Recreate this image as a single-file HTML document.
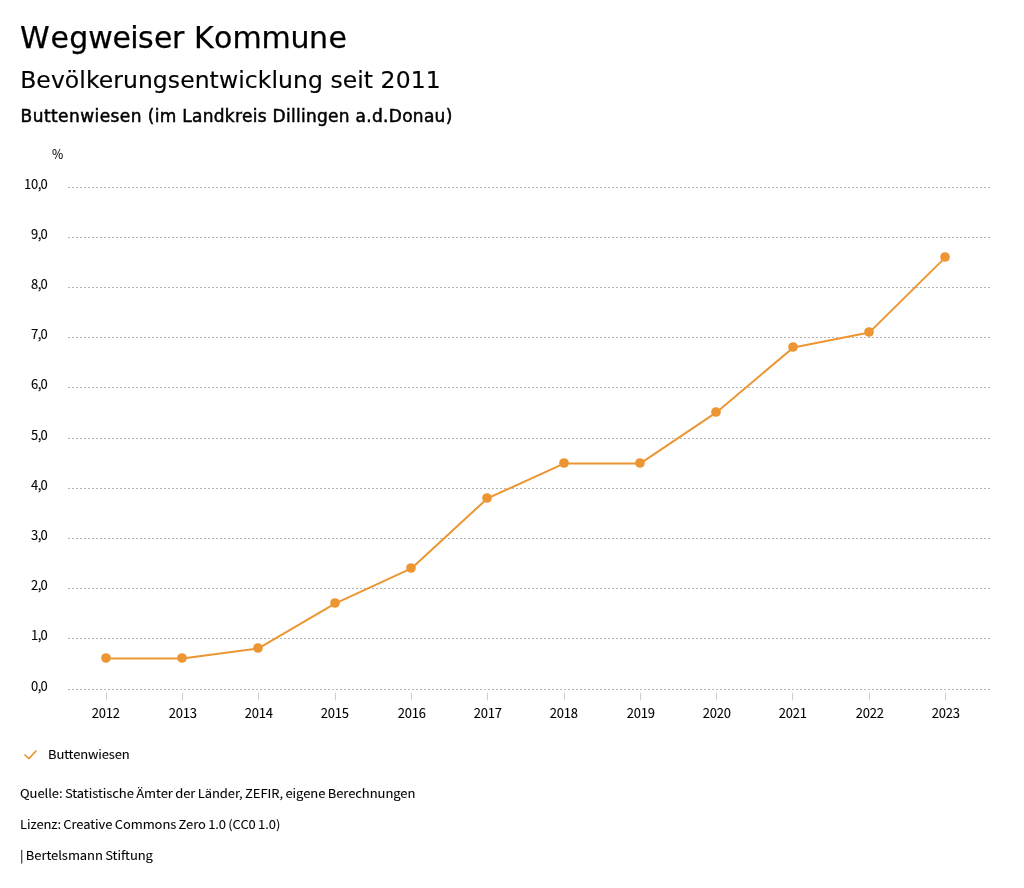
<!DOCTYPE html>
<html lang="de"><head><meta charset="utf-8"><title>Wegweiser Kommune</title>
<style>
html,body{margin:0;padding:0;background:#fff}
body{width:1024px;height:888px;overflow:hidden;position:relative}
svg{position:absolute;left:0;top:0;display:block}
text{fill:#000}
.t1{font-family:"DejaVu Sans","Liberation Sans",sans-serif;font-size:30px;stroke:#000;stroke-width:0.25px}
.t2{font-family:"DejaVu Sans","Liberation Sans",sans-serif;font-size:23.5px;letter-spacing:0.06px;stroke:#000;stroke-width:0.15px}
.t3{font-family:"DejaVu Sans","Liberation Sans",sans-serif;font-size:17px;stroke:#000;stroke-width:0.5px;letter-spacing:0.29px}
.ax{letter-spacing:-0.2px !important}
.lg{letter-spacing:-0.14px !important}
.lz{letter-spacing:-0.085px !important}
.ax,.ft{font-family:"Noto Sans CJK SC","Liberation Sans",sans-serif;font-size:13px;fill:#000;stroke:#000;stroke-width:0.08px;word-spacing:-0.45px;letter-spacing:-0.06px}
.ay{font-family:"Noto Sans CJK SC","Liberation Sans",sans-serif;font-size:13px;fill:#000;stroke:#000;stroke-width:0.08px}
</style></head><body>
<svg width="1024" height="888" viewBox="0 0 1024 888">
<rect width="1024" height="888" fill="#fff"/>
<text x="20 50.5 69.2 88.2 112.4 130.2 138 154 172 184 194 214 232.5 261.5 290.5 309 328.4" y="48" class="t1">Wegweiser Kommune</text>
<text x="20.2" y="88" class="t2">Bevölkerungsentwicklung seit 2011</text>
<text x="20.6" y="122" class="t3"><tspan style="letter-spacing:0.43px">Buttenwiesen </tspan>(im Landkreis Dillingen a.d.Donau)</text>
<text transform="translate(51.9 159.1) scale(0.94 1)" class="ay">%</text>
<line x1="68" x2="991" y1="689.5" y2="689.5" stroke="#b4b4b4" stroke-width="1" stroke-dasharray="2 2"/>
<text x="31 37.8 40.5" y="691.0" class="ay">0,0</text>
<line x1="68" x2="991" y1="638.5" y2="638.5" stroke="#b4b4b4" stroke-width="1" stroke-dasharray="2 2"/>
<text x="31 37.8 40.5" y="640.0" class="ay">1,0</text>
<line x1="68" x2="991" y1="588.5" y2="588.5" stroke="#b4b4b4" stroke-width="1" stroke-dasharray="2 2"/>
<text x="31 37.8 40.5" y="590.0" class="ay">2,0</text>
<line x1="68" x2="991" y1="538.5" y2="538.5" stroke="#b4b4b4" stroke-width="1" stroke-dasharray="2 2"/>
<text x="31 37.8 40.5" y="540.0" class="ay">3,0</text>
<line x1="68" x2="991" y1="488.5" y2="488.5" stroke="#b4b4b4" stroke-width="1" stroke-dasharray="2 2"/>
<text x="31 37.8 40.5" y="490.0" class="ay">4,0</text>
<line x1="68" x2="991" y1="438.5" y2="438.5" stroke="#b4b4b4" stroke-width="1" stroke-dasharray="2 2"/>
<text x="31 37.8 40.5" y="440.0" class="ay">5,0</text>
<line x1="68" x2="991" y1="387.5" y2="387.5" stroke="#b4b4b4" stroke-width="1" stroke-dasharray="2 2"/>
<text x="31 37.8 40.5" y="389.0" class="ay">6,0</text>
<line x1="68" x2="991" y1="337.5" y2="337.5" stroke="#b4b4b4" stroke-width="1" stroke-dasharray="2 2"/>
<text x="31 37.8 40.5" y="339.0" class="ay">7,0</text>
<line x1="68" x2="991" y1="287.5" y2="287.5" stroke="#b4b4b4" stroke-width="1" stroke-dasharray="2 2"/>
<text x="31 37.8 40.5" y="289.0" class="ay">8,0</text>
<line x1="68" x2="991" y1="237.5" y2="237.5" stroke="#b4b4b4" stroke-width="1" stroke-dasharray="2 2"/>
<text x="31 37.8 40.5" y="239.0" class="ay">9,0</text>
<line x1="68" x2="991" y1="187.5" y2="187.5" stroke="#b4b4b4" stroke-width="1" stroke-dasharray="2 2"/>
<text x="24 31 37.8 40.5" y="189.0" class="ay">10,0</text>
<line x1="106.5" x2="106.5" y1="692.7" y2="700.5" stroke="#cfcfcf" stroke-width="1"/>
<text transform="translate(105.7 717.6) scale(1 1)" text-anchor="middle" class="ax">2012</text>
<line x1="182.5" x2="182.5" y1="692.7" y2="700.5" stroke="#cfcfcf" stroke-width="1"/>
<text transform="translate(182.7 717.6) scale(1 1)" text-anchor="middle" class="ax">2013</text>
<line x1="258.5" x2="258.5" y1="692.7" y2="700.5" stroke="#cfcfcf" stroke-width="1"/>
<text transform="translate(258.7 717.6) scale(1 1)" text-anchor="middle" class="ax">2014</text>
<line x1="335.5" x2="335.5" y1="692.7" y2="700.5" stroke="#cfcfcf" stroke-width="1"/>
<text transform="translate(334.7 717.6) scale(1 1)" text-anchor="middle" class="ax">2015</text>
<line x1="411.5" x2="411.5" y1="692.7" y2="700.5" stroke="#cfcfcf" stroke-width="1"/>
<text transform="translate(411.7 717.6) scale(1 1)" text-anchor="middle" class="ax">2016</text>
<line x1="487.5" x2="487.5" y1="692.7" y2="700.5" stroke="#cfcfcf" stroke-width="1"/>
<text transform="translate(487.7 717.6) scale(1 1)" text-anchor="middle" class="ax">2017</text>
<line x1="564.5" x2="564.5" y1="692.7" y2="700.5" stroke="#cfcfcf" stroke-width="1"/>
<text transform="translate(563.7 717.6) scale(1 1)" text-anchor="middle" class="ax">2018</text>
<line x1="640.5" x2="640.5" y1="692.7" y2="700.5" stroke="#cfcfcf" stroke-width="1"/>
<text transform="translate(640.7 717.6) scale(1 1)" text-anchor="middle" class="ax">2019</text>
<line x1="716.5" x2="716.5" y1="692.7" y2="700.5" stroke="#cfcfcf" stroke-width="1"/>
<text transform="translate(716.7 717.6) scale(1 1)" text-anchor="middle" class="ax">2020</text>
<line x1="792.5" x2="792.5" y1="692.7" y2="700.5" stroke="#cfcfcf" stroke-width="1"/>
<text transform="translate(792.7 717.6) scale(1 1)" text-anchor="middle" class="ax">2021</text>
<line x1="869.5" x2="869.5" y1="692.7" y2="700.5" stroke="#cfcfcf" stroke-width="1"/>
<text transform="translate(869.7 717.6) scale(1 1)" text-anchor="middle" class="ax">2022</text>
<line x1="945.5" x2="945.5" y1="692.7" y2="700.5" stroke="#cfcfcf" stroke-width="1"/>
<text transform="translate(945.7 717.6) scale(1 1)" text-anchor="middle" class="ax">2023</text>
<polyline points="106.4,658.4 182.4,658.4 258.4,648.4 335.4,603.4 411.4,568.4 487.4,498.4 564.4,463.4 640.4,463.4 716.4,412.4 793.4,347.4 869.4,332.4 945.4,257.4" fill="none" stroke="#ec9633" stroke-width="2" stroke-linejoin="round"/>
<circle cx="106" cy="658" r="4.85" fill="#ec9633"/>
<circle cx="182" cy="658" r="4.85" fill="#ec9633"/>
<circle cx="258" cy="648" r="4.85" fill="#ec9633"/>
<circle cx="335" cy="603" r="4.85" fill="#ec9633"/>
<circle cx="411" cy="568" r="4.85" fill="#ec9633"/>
<circle cx="487" cy="498" r="4.85" fill="#ec9633"/>
<circle cx="564" cy="463" r="4.85" fill="#ec9633"/>
<circle cx="640" cy="463" r="4.85" fill="#ec9633"/>
<circle cx="716" cy="412" r="4.85" fill="#ec9633"/>
<circle cx="793" cy="347" r="4.85" fill="#ec9633"/>
<circle cx="869" cy="332" r="4.85" fill="#ec9633"/>
<circle cx="945" cy="257" r="4.85" fill="#ec9633"/>
<path d="M24.5 754.5 L28.85 758.55 L36.45 750.5" fill="none" stroke="#ec9633" stroke-width="1.7" stroke-linecap="butt" stroke-linejoin="miter"/>
<text transform="translate(48 758.8) scale(1 0.93)" class="ft lg">Buttenwiesen</text>
<text transform="translate(20 797.9) scale(1 0.93)" class="ft">Quelle: Statistische Ämter der Länder, ZEFIR, eigene Berechnungen</text>
<text transform="translate(20 829) scale(1 0.93)" class="ft lz">Lizenz: Creative Commons Zero 1.0 (CC0 1.0)</text>
<text transform="translate(20 860) scale(1 0.93)" class="ft">| Bertelsmann Stiftung</text>
</svg>
</body></html>
